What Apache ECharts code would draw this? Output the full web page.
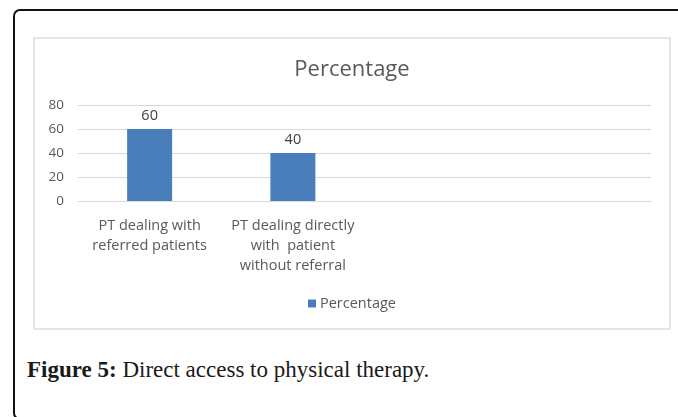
<!DOCTYPE html>
<html>
<head>
<meta charset="utf-8">
<script src="https://cdn.jsdelivr.net/npm/echarts@6/dist/echarts.min.js"></script>
<style>
  html, body {
    margin: 0;
    padding: 0;
    background: #fff;
    width: 678px;
    height: 417px;
    overflow: hidden;
  }
  .outer-box {
    position: absolute;
    left: 13px;
    top: 9px;
    width: 720px;
    height: 411px;
    border: 2px solid #111;
    border-radius: 7px;
    box-sizing: border-box;
  }
  .chart-frame {
    position: absolute;
    left: 33px;
    top: 37px;
    width: 638px;
    height: 293px;
    border: 2px solid #e6e6e6;
    box-sizing: border-box;
  }
  #chart {
    position: absolute;
    left: 35px;
    top: 39px;
    width: 634px;
    height: 289px;
  }
  .caption {
    position: absolute;
    left: 27px;
    top: 357px;
    margin: 0;
    font-family: "Liberation Serif", serif;
    font-size: 23px;
    color: #1a1a1a;
    white-space: nowrap;
  }
  .caption b {
    font-weight: bold;
  }
</style>
</head>
<body>
<div class="outer-box"></div>
<div class="chart-frame"></div>
<div id="chart"></div>
<p class="caption"><b>Figure 5:</b> Direct access to physical therapy.</p>

<script>
// data (the sheet had two empty rows after the bars)
const categories = [
  'PT dealing with\nreferred patients',
  'PT dealing directly\nwith  patient\nwithout referral',
  '',
  ''
]
const percentValues = [60, 40, '-', '-']
const yTicks = { min: 0, max: 80, interval: 20 }
const seriesName = 'Percentage'

const textGray = '#595959'
const barBlue = '#4a7ebb'

const chart = echarts.init(document.getElementById('chart'))

const option = {
  animation: false,
  textStyle: {
    fontFamily: '"Open Sans", sans-serif'
  },
  title: {
    text: seriesName,
    left: 'center',
    top: 20,
    padding: 0,
    textStyle: {
      fontSize: 22,
      fontWeight: 'normal',
      color: textGray,
      fontFamily: '"Open Sans", sans-serif'
    }
  },
  legend: {
    data: [seriesName],
    bottom: 17,
    left: 'center',
    padding: 0,
    itemWidth: 8,
    itemHeight: 8,
    itemGap: 4,
    icon: 'rect',
    textStyle: {
      fontSize: 14.5,
      color: textGray,
      padding: [0, 0, 0, -1]
    }
  },
  grid: {
    left: 43,
    right: 18,
    top: 66,
    bottom: 127
  },
  xAxis: {
    type: 'category',
    data: categories,
    axisLine: {
      lineStyle: { color: '#d9d9d9' }
    },
    axisTick: { show: false },
    axisLabel: {
      interval: 0,
      margin: 15,
      fontSize: 14.5,
      lineHeight: 20,
      color: textGray
    }
  },
  yAxis: {
    type: 'value',
    min: yTicks.min,
    max: yTicks.max,
    interval: yTicks.interval,
    axisLine: { show: false },
    axisTick: { show: false },
    axisLabel: {
      margin: 14,
      fontSize: 13.5,
      color: textGray
    },
    splitLine: {
      lineStyle: { color: '#d9d9d9', width: 1 }
    }
  },
  series: [
    {
      name: seriesName,
      type: 'bar',
      data: percentValues,
      barWidth: 45,
      itemStyle: { color: barBlue },
      label: {
        show: true,
        position: 'top',
        distance: 6,
        fontSize: 14.5,
        color: '#404040'
      }
    }
  ]
}

chart.setOption(option)
</script>
</body>
</html>
